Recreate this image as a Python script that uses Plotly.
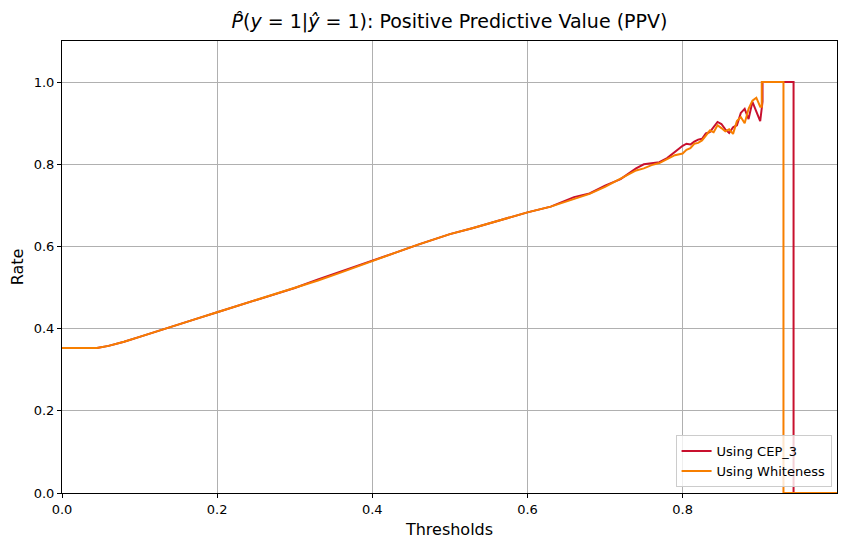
import plotly.graph_objects as go

# Thresholds shared by both curves (smooth part)
thresholds = [0.0, 0.045, 0.06, 0.08, 0.10, 0.126, 0.15, 0.175, 0.2, 0.243,
              0.27, 0.3, 0.33, 0.36, 0.4, 0.43, 0.46, 0.5, 0.53, 0.565,
              0.6, 0.63, 0.66, 0.68, 0.7, 0.72, 0.74, 0.75, 0.76, 0.77,
              0.78, 0.79, 0.80, 0.805, 0.81, 0.815, 0.82, 0.825, 0.83, 0.835,
              0.84, 0.845, 0.85, 0.855, 0.86, 0.865, 0.87, 0.875, 0.88, 0.885,
              0.89, 0.895, 0.9]

ppv_cep = [0.353, 0.353, 0.358, 0.368, 0.380, 0.395, 0.410, 0.425, 0.440, 0.465,
           0.481, 0.499, 0.520, 0.539, 0.565, 0.585, 0.605, 0.630, 0.645, 0.664,
           0.683, 0.697, 0.720, 0.729, 0.748, 0.764, 0.790, 0.800, 0.803, 0.805,
           0.815, 0.830, 0.845, 0.850, 0.848, 0.855, 0.860, 0.862, 0.875, 0.878,
           0.890, 0.903, 0.898, 0.885, 0.876, 0.890, 0.895, 0.925, 0.935, 0.910,
           0.952, 0.930, 0.905]

ppv_white = [0.353, 0.353, 0.358, 0.368, 0.380, 0.395, 0.410, 0.425, 0.440, 0.465,
             0.481, 0.498, 0.517, 0.537, 0.565, 0.585, 0.605, 0.630, 0.645, 0.664,
             0.683, 0.697, 0.716, 0.728, 0.745, 0.764, 0.785, 0.790, 0.798, 0.803,
             0.812, 0.822, 0.826, 0.835, 0.839, 0.850, 0.852, 0.858, 0.870, 0.882,
             0.878, 0.895, 0.888, 0.880, 0.885, 0.874, 0.905, 0.915, 0.900, 0.935,
             0.955, 0.962, 0.940]

# Tails: jump to 1.0 then drop to 0 (repeated thresholds = vertical steps)
cep_tail_x = [0.903, 0.903, 0.943, 0.943, 0.999]
cep_tail_y = [0.952, 1.0, 1.0, 0.0, 0.0]
white_tail_x = [0.902, 0.902, 0.930, 0.930, 0.999]
white_tail_y = [0.940, 1.0, 1.0, 0.0, 0.0]

x_ticks = [0.0, 0.2, 0.4, 0.6, 0.8]
y_ticks = [0.0, 0.2, 0.4, 0.6, 0.8, 1.0]

fig = go.Figure()

fig.add_trace(go.Scatter(
    x=thresholds + cep_tail_x, y=ppv_cep + cep_tail_y,
    mode='lines', name='Using CEP_3',
    line=dict(width=2, color='#c8102e')
))

fig.add_trace(go.Scatter(
    x=thresholds + white_tail_x, y=ppv_white + white_tail_y,
    mode='lines', name='Using Whiteness',
    line=dict(width=2, color='#f77f00')
))

fig.update_layout(
    width=850,
    height=548,
    margin=dict(l=54, r=21, t=33, b=63),
    plot_bgcolor='white',
    paper_bgcolor='white',
    font=dict(family='DejaVu Sans', size=13, color='black'),
    title=dict(
        text='<i>P̂</i>(<i>y</i> = 1|<i>ŷ</i> = 1): Positive Predictive Value (PPV)',
        x=0.5, xref='paper', xanchor='center',
        y=0.975, yanchor='middle',
        font=dict(size=19),
    ),
    legend=dict(
        x=0.993, y=0.013, xanchor='right', yanchor='bottom',
        bgcolor='rgba(255,255,255,0.8)',
        bordercolor='#cccccc', borderwidth=1,
        font=dict(size=13),
        tracegroupgap=0,
    ),
)

fig.update_xaxes(
    range=[0, 0.999],
    tickvals=x_ticks,
    tickformat='.1f',
    showgrid=True, gridcolor='#b0b0b0', gridwidth=1,
    zeroline=False, automargin=False,
    showline=True, linecolor='black', linewidth=1, mirror=True,
    ticks='outside', ticklen=4, tickcolor='black',
    title=dict(text='Thresholds', font=dict(size=16), standoff=8),
)

fig.update_yaxes(
    range=[0, 1.1],
    tickvals=y_ticks,
    tickformat='.1f',
    showgrid=True, gridcolor='#b0b0b0', gridwidth=1,
    zeroline=False, automargin=False,
    showline=True, linecolor='black', linewidth=1, mirror=True,
    ticks='outside', ticklen=4, tickcolor='black',
    title=dict(text='Rate', font=dict(size=16), standoff=8),
)

fig.write_html("out.html")
